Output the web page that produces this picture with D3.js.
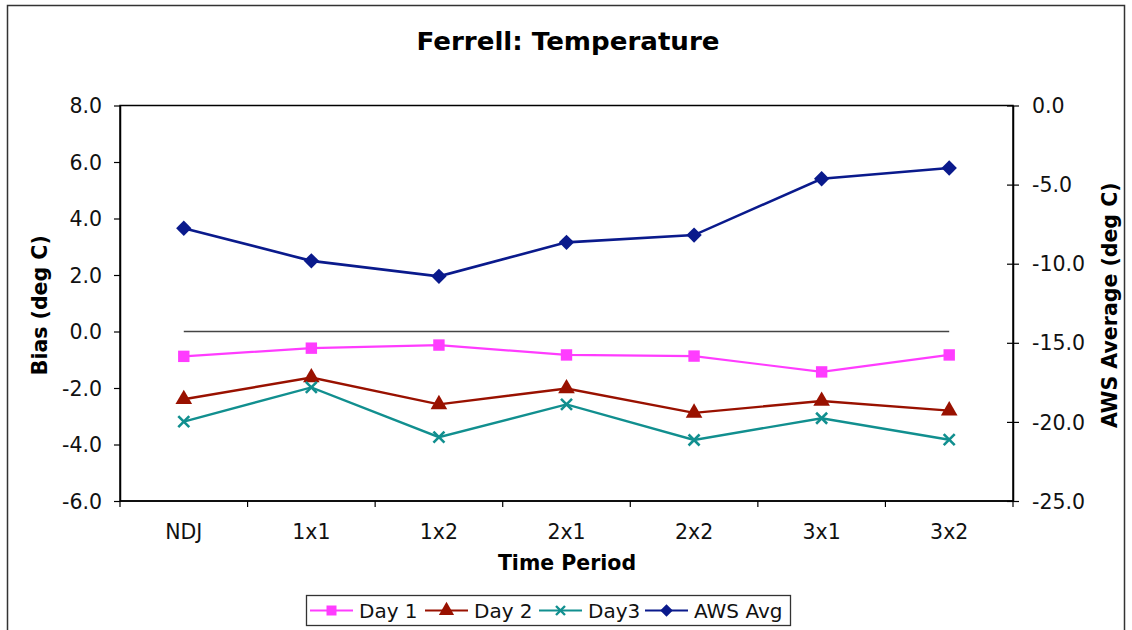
<!DOCTYPE html>
<html>
<head>
<meta charset="utf-8">
<script src="https://cdn.jsdelivr.net/npm/d3@7"></script>
<style>
  html, body { margin: 0; padding: 0; background: #fff; }
  svg { display: block; font-family: "DejaVu Sans", Verdana, sans-serif; }
</style>
</head>
<body>
<svg id="chart" width="1132" height="630"></svg>
<script>
// Time periods along the x axis
const periods = ["NDJ", "1x1", "1x2", "2x1", "2x2", "3x1", "3x2"];

// Forecast bias (deg C), left axis
const day1 = [-0.88, -0.59, -0.48, -0.83, -0.87, -1.43, -0.83];
const day2 = [-2.40, -1.63, -2.58, -2.02, -2.88, -2.46, -2.80];
const day3 = [-3.19, -1.98, -3.74, -2.58, -3.84, -3.07, -3.83];

// AWS station average temperature (deg C), right axis
const awsAvg = [-7.76, -9.82, -10.80, -8.65, -8.19, -4.63, -3.95];

// Axis tick values
const biasTicks = [8, 6, 4, 2, 0, -2, -4, -6];
const awsTicks = [0, -5, -10, -15, -20, -25];

// One decimal, plain hyphen for negatives
const fmt = d => d.toFixed(1);

const svg = d3.select("#chart");

// Outer chart frame
svg.append("rect")
  .attr("x", 7.5).attr("y", 5.5)
  .attr("width", 1117).attr("height", 640)
  .attr("fill", "#fff").attr("stroke", "#333").attr("stroke-width", 1.5);

const plot = { left: 120, right: 1013, top: 105.5, bottom: 501 };

const x = d3.scaleBand().domain(periods).range([plot.left, plot.right]).padding(0);
const cx = d => x(d) + x.bandwidth() / 2;
const yL = d3.scaleLinear().domain([-6, 8]).range([plot.bottom, plot.top]);
const yR = d3.scaleLinear().domain([-25, 0]).range([plot.bottom, plot.top]);

// Plot area border
svg.append("rect")
  .attr("x", plot.left).attr("y", plot.top)
  .attr("width", plot.right - plot.left).attr("height", plot.bottom - plot.top)
  .attr("fill", "none").attr("stroke", "#000").attr("stroke-width", 1.5);

// Title
svg.append("text")
  .attr("x", 568).attr("y", 50)
  .attr("text-anchor", "middle")
  .attr("font-size", 25).attr("font-weight", "bold")
  .attr("textLength", 303).attr("lengthAdjust", "spacingAndGlyphs")
  .text("Ferrell: Temperature");

// Left axis
const leftAxis = svg.append("g")
  .attr("transform", `translate(${plot.left},0)`)
  .call(d3.axisLeft(yL).tickValues(biasTicks).tickFormat(fmt).tickSize(6).tickSizeOuter(0).tickPadding(12));
leftAxis.select(".domain").attr("stroke", "#000").attr("stroke-width", 1.5);
leftAxis.selectAll(".tick line").attr("stroke", "#000").attr("stroke-width", 1.2);
leftAxis.selectAll(".tick text").attr("font-size", 20.5).attr("fill", "#111")
  .attr("font-family", "DejaVu Sans, sans-serif").attr("dy", "0.35em");

// Right axis with ticks crossing the axis line
const rightAxis = svg.append("g")
  .attr("transform", `translate(${plot.right},0)`)
  .call(d3.axisRight(yR).tickValues(awsTicks).tickFormat(fmt).tickSize(6).tickSizeOuter(0).tickPadding(13));
rightAxis.select(".domain").attr("stroke", "#000").attr("stroke-width", 1.5);
rightAxis.selectAll(".tick line").attr("x1", -6).attr("stroke", "#000").attr("stroke-width", 1.2);
rightAxis.selectAll(".tick text").attr("font-size", 20.5).attr("fill", "#111")
  .attr("text-anchor", "start")
  .attr("font-family", "DejaVu Sans, sans-serif").attr("dy", "0.35em");

// Bottom axis: ticks sit on the category boundaries
const bottom = svg.append("g").attr("transform", `translate(0,${plot.bottom})`);
bottom.append("line")
  .attr("x1", plot.left).attr("x2", plot.right)
  .attr("stroke", "#000").attr("stroke-width", 1.5);
const boundaries = periods.map(p => x(p)).concat([plot.right]);
bottom.selectAll("line.tk").data(boundaries).join("line")
  .attr("class", "tk")
  .attr("x1", d => d).attr("x2", d => d)
  .attr("y1", 0).attr("y2", 6)
  .attr("stroke", "#000").attr("stroke-width", 1.2);
bottom.selectAll("text").data(periods).join("text")
  .attr("x", d => cx(d)).attr("y", 38)
  .attr("text-anchor", "middle")
  .attr("font-size", 20.5).attr("fill", "#111")
  .text(d => d);

// Axis titles
svg.append("text")
  .attr("x", 567).attr("y", 570)
  .attr("text-anchor", "middle")
  .attr("font-size", 20.5).attr("font-weight", "bold")
  .text("Time Period");

svg.append("text")
  .attr("transform", `translate(47,${(plot.top + plot.bottom) / 2 + 2}) rotate(-90)`)
  .attr("text-anchor", "middle")
  .attr("font-size", 20.5).attr("font-weight", "bold")
  .text("Bias (deg C)");

svg.append("text")
  .attr("transform", `translate(1117,${(plot.top + plot.bottom) / 2 + 2}) rotate(-90)`)
  .attr("text-anchor", "middle")
  .attr("font-size", 20.5).attr("font-weight", "bold")
  .text("AWS Average (deg C)");

// Zero-bias reference line across the periods
svg.append("line")
  .attr("x1", cx(periods[0])).attr("x2", cx(periods[periods.length - 1]))
  .attr("y1", yL(0)).attr("y2", yL(0))
  .attr("stroke", "#444").attr("stroke-width", 1.3);

// Marker shapes
const markers = {
  square: d3.symbol().type(d3.symbolSquare).size(130),
  triangle: d3.symbol().type(d3.symbolTriangle).size(120),
  diamond: d3.symbol().type(d3.symbolDiamond2).size(150),
};

function drawSeries(values, yScale, color, marker, width) {
  const pts = periods.map((p, i) => [cx(p), yScale(values[i])]);
  svg.append("path")
    .attr("d", d3.line()(pts))
    .attr("fill", "none").attr("stroke", color).attr("stroke-width", width);
  const g = svg.append("g");
  pts.forEach(([px, py]) => {
    if (marker === "x") {
      const s = 5.5;
      g.append("path")
        .attr("d", `M${px - s},${py - s}L${px + s},${py + s}M${px - s},${py + s}L${px + s},${py - s}`)
        .attr("stroke", color).attr("stroke-width", 2.6).attr("fill", "none");
    } else {
      g.append("path")
        .attr("d", markers[marker]())
        .attr("transform", `translate(${px},${py})`)
        .attr("fill", color);
    }
  });
}

const colors = { day1: "#ff3cff", day2: "#991100", day3: "#118f8f", aws: "#0a1a8c" };

drawSeries(awsAvg, yR, colors.aws, "diamond", 2.6);
drawSeries(day1, yL, colors.day1, "square", 2.2);
drawSeries(day2, yL, colors.day2, "triangle", 2.4);
drawSeries(day3, yL, colors.day3, "x", 2.4);

// Legend
const legendItems = [
  { name: "Day 1", color: colors.day1, marker: "square", x0: 310 },
  { name: "Day 2", color: colors.day2, marker: "triangle", x0: 425 },
  { name: "Day3", color: colors.day3, marker: "x", x0: 539 },
  { name: "AWS Avg", color: colors.aws, marker: "diamond", x0: 645 },
];
const legY = 610.5;
svg.append("rect")
  .attr("x", 306.5).attr("y", 595.5)
  .attr("width", 484).attr("height", 30)
  .attr("fill", "#fff").attr("stroke", "#333").attr("stroke-width", 1.3);
const leg = svg.append("g");
legendItems.forEach(it => {
  leg.append("line")
    .attr("x1", it.x0).attr("x2", it.x0 + 43)
    .attr("y1", legY).attr("y2", legY)
    .attr("stroke", it.color).attr("stroke-width", 2.2);
  const mx = it.x0 + 21.5;
  if (it.marker === "x") {
    const s = 4.5;
    leg.append("path")
      .attr("d", `M${mx - s},${legY - s}L${mx + s},${legY + s}M${mx - s},${legY + s}L${mx + s},${legY - s}`)
      .attr("stroke", it.color).attr("stroke-width", 2.4);
  } else {
    leg.append("path")
      .attr("d", d3.symbol().type(it.marker === "square" ? d3.symbolSquare : it.marker === "triangle" ? d3.symbolTriangle : d3.symbolDiamond2).size(100)())
      .attr("transform", `translate(${mx},${legY})`)
      .attr("fill", it.color);
  }
  leg.append("text")
    .attr("x", it.x0 + 49).attr("y", legY + 7)
    .attr("font-size", 20).attr("fill", "#111")
    .text(it.name);
});
</script>
</body>
</html>
